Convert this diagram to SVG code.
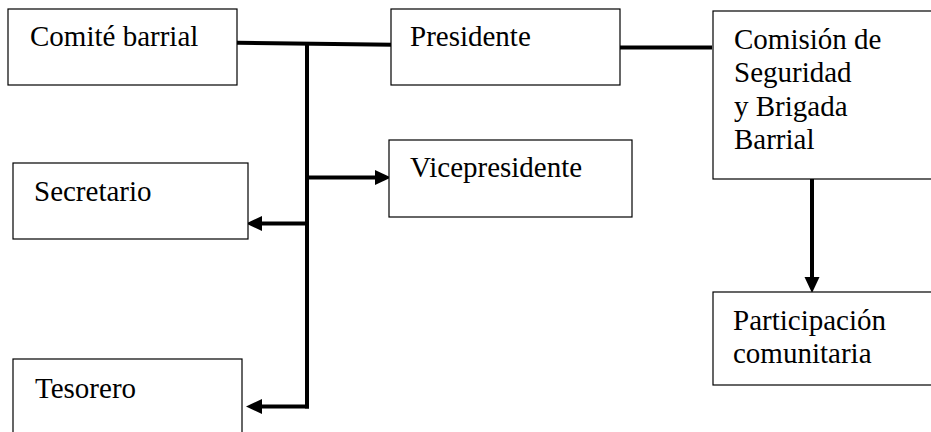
<svg xmlns="http://www.w3.org/2000/svg" width="931" height="432" viewBox="0 0 931 432">
<style>
.box{fill:#fff;stroke:#000;stroke-width:1.2}
.t{font-family:'Liberation Serif','Times New Roman',serif;font-size:29px;fill:#000}
.c{stroke:#000;stroke-width:4;fill:none}
.a{stroke:#000;stroke-width:4;fill:none;marker-end:url(#arr)}
</style>
<defs>
<marker id="arr" markerUnits="userSpaceOnUse" markerWidth="16" markerHeight="16" viewBox="0 0 16 16" refX="0" refY="8" orient="auto">
<path d="M0,0.5 L16,8 L0,15.5 z" fill="#000"/>
</marker>
</defs>
<rect width="931" height="432" fill="#fff"/>
<g id="connectors">
<line class="c" x1="237" y1="42.8" x2="393" y2="44.8"/>
<line class="c" x1="307" y1="43" x2="307" y2="408.5"/>
<line class="c" x1="620" y1="47.5" x2="712" y2="47.5"/>
<line class="a" x1="305" y1="177.5" x2="375" y2="177.5"/>
<line class="a" x1="309" y1="223.5" x2="262" y2="223.5"/>
<line class="a" x1="309" y1="406.5" x2="262" y2="406.5"/>
<line class="a" x1="812" y1="179" x2="812" y2="277"/>
</g>
<g id="comite">
<rect class="box" x="8" y="9" width="229" height="76"/>
<text class="t" x="30" y="46">Comité barrial</text>
</g>
<g id="presidente">
<rect class="box" x="391" y="9" width="229" height="76"/>
<text class="t" x="410" y="46">Presidente</text>
</g>
<g id="comision">
<rect class="box" x="713" y="11" width="222" height="168"/>
<text class="t" x="734" y="49">Comisión de</text>
<text class="t" x="734" y="82">Seguridad</text>
<text class="t" x="734" y="116">y Brigada</text>
<text class="t" x="734" y="149">Barrial</text>
</g>
<g id="vicepresidente">
<rect class="box" x="389" y="140" width="243" height="77"/>
<text class="t" x="410" y="177">Vicepresidente</text>
</g>
<g id="secretario">
<rect class="box" x="13" y="163" width="235" height="76"/>
<text class="t" x="34" y="201">Secretario</text>
</g>
<g id="tesorero">
<rect class="box" x="13" y="359" width="229" height="80"/>
<text class="t" x="35" y="398">Tesorero</text>
</g>
<g id="participacion">
<rect class="box" x="713" y="292" width="222" height="93"/>
<text class="t" x="733" y="330">Participación</text>
<text class="t" x="733" y="363">comunitaria</text>
</g>
</svg>
